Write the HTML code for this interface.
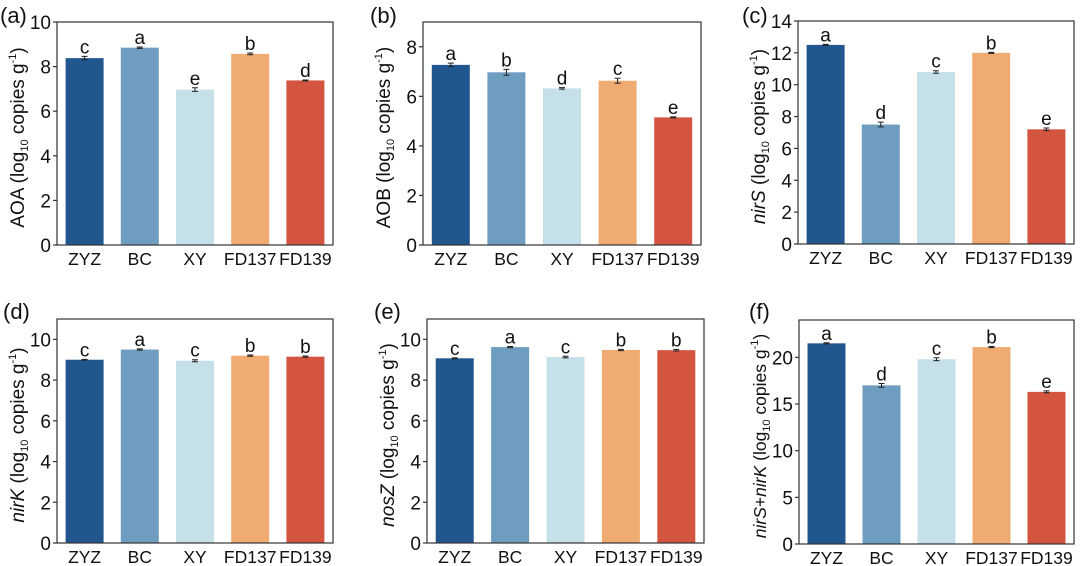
<!DOCTYPE html>
<html><head><meta charset="utf-8"><style>
html,body{margin:0;padding:0;background:#fff;}
svg{display:block;font-family:"Liberation Sans",Arial,sans-serif;}
</style></head><body>
<svg id="fig" width="1080" height="566" viewBox="0 0 1080 566"></svg>
<script>
const categories = ["ZYZ","BC","XY","FD137","FD139"];
const colors = ["#22568F","#6F9DC0","#C6E0EA","#EFAB72","#D35540"];
const valsA = [8.38,8.85,6.97,8.57,7.38];
const errA = [0.08,0.03,0.08,0.04,0.02];
const letA = ["c","a","e","b","d"];
const valsB = [7.27,6.97,6.32,6.63,5.15];
const errB = [0.07,0.12,0.03,0.1,0.02];
const letB = ["a","b","d","c","e"];
const valsC = [12.5,7.5,10.8,12.0,7.2];
const errC = [0.03,0.15,0.08,0.03,0.08];
const letC = ["a","d","c","b","e"];
const valsD = [9.0,9.5,8.95,9.2,9.15];
const errD = [0.02,0.03,0.05,0.03,0.03];
const letD = ["c","a","c","b","b"];
const valsE = [9.07,9.62,9.13,9.48,9.47];
const errE = [0.02,0.03,0.04,0.03,0.04];
const letE = ["c","a","c","b","b"];
const valsF = [21.5,17.0,19.8,21.1,16.3];
const errF = [0.06,0.2,0.15,0.06,0.1];
const letF = ["a","d","c","b","e"];
const ticksA = [0,2,4,6,8,10];
const ticksB = [0,2,4,6,8];
const ticksC = [0,2,4,6,8,10,12,14];
const ticksD = [0,2,4,6,8,10];
const ticksE = [0,2,4,6,8,10];
const ticksF = [0,5,10,15,20];

const NS="http://www.w3.org/2000/svg";
const svg=document.getElementById('fig');
function mk(tag,attrs,parent,text){const e=document.createElementNS(NS,tag);for(const k in attrs)e.setAttribute(k,attrs[k]);if(text!==undefined)e.textContent=text;(parent||svg).appendChild(e);return e;}

const panels=[
 {id:'a',L:57,R:333,T:22,B:245,ymax:10,vals:valsA,err:errA,let:letA,ticks:ticksA,gene:'AOA',ital:false,lx:0,ly:23,fs:19},
 {id:'b',L:423,R:701,T:22,B:245,ymax:9,vals:valsB,err:errB,let:letB,ticks:ticksB,gene:'AOB',ital:false,lx:370,ly:23,fs:19},
 {id:'c',L:798,R:1074,T:21,B:244,ymax:14,vals:valsC,err:errC,let:letC,ticks:ticksC,gene:'nirS',ital:true,lx:742,ly:23,fs:19},
 {id:'d',L:57,R:333,T:319,B:543,ymax:11,vals:valsD,err:errD,let:letD,ticks:ticksD,gene:'nirK',ital:true,lx:3,ly:319,fs:19},
 {id:'e',L:427,R:704,T:319,B:543,ymax:11,vals:valsE,err:errE,let:letE,ticks:ticksE,gene:'nosZ',ital:true,lx:374,ly:319,fs:19},
 {id:'f',L:799,R:1074,T:320,B:544,ymax:24,vals:valsF,err:errF,let:letF,ticks:ticksF,gene:'nirS+nirK',ital:true,lx:749,ly:319,fs:17.5}
];

panels.forEach(p=>{
  const g=mk('g',{});
  
  
  const y=v=>p.B-(v/p.ymax)*(p.B-p.T);
  const step=(p.R-p.L)/categories.length;
  const x=i=>p.L+step*(i+0.5);
  const bw=38;
  categories.forEach((c,i)=>{
    const r=mk('rect',{x:x(i)-bw/2,y:y(p.vals[i]),width:bw,height:p.B-y(p.vals[i]),fill:colors[i]},g);
    
    
    const e1=y(p.vals[i]+p.err[i]),e2=y(p.vals[i]-p.err[i]);
    const eb=mk('path',{d:`M${x(i)},${e1}V${e2}M${x(i)-3},${e1}H${x(i)+3}M${x(i)-3},${e2}H${x(i)+3}`,stroke:'#222','stroke-width':1,fill:'none'},g);
    
    
    const lt=mk('text',{x:x(i),y:e1-3,'text-anchor':'middle','font-size':19,fill:'#111'},g,p.let[i]);
    
    
    const xl=mk('text',{x:x(i),y:p.B+20,'text-anchor':'middle','font-size':17.5,fill:'#111'},g,c);
    
    
  });
  const fr=mk('rect',{x:p.L,y:p.T,width:p.R-p.L,height:p.B-p.T,fill:'none',stroke:'#333','stroke-width':1.2},g);
  
  
  p.ticks.forEach(t=>{
    mk('line',{x1:p.L-4,x2:p.L,y1:y(t),y2:y(t),stroke:'#333','stroke-width':1.2},g);
    const tl=mk('text',{x:p.L-6,y:y(t)+7,'text-anchor':'end','font-size':19,fill:'#111'},g,String(t));
    
    
  });
  const cy=(p.T+p.B)/2+4, tx=p.L-33;
  const yt=mk('text',{transform:`translate(${tx},${cy}) rotate(-90)`,'text-anchor':'middle','font-size':p.fs,fill:'#111'},g);
  
  
  if(p.gene==='nirS+nirK'){
    mk('tspan',{'font-style':'italic'},yt,'nirS');
    mk('tspan',{},yt,'+');
    mk('tspan',{'font-style':'italic'},yt,'nirK');
  } else {
    mk('tspan',p.ital?{'font-style':'italic'}:{},yt,p.gene);
  }
  mk('tspan',{},yt,p.ital?' (log':'  (log');
  mk('tspan',{'font-size':11,dy:4},yt,'10');
  mk('tspan',{dy:-4},yt,' copies g');
  mk('tspan',{'font-size':11,dy:-8},yt,'-1');
  mk('tspan',{dy:8},yt,')');
  const pl=mk('text',{x:p.lx,y:p.ly,'font-size':22,fill:'#111'},g,'('+p.id+')');
  
  
});
</script>
</body></html>
